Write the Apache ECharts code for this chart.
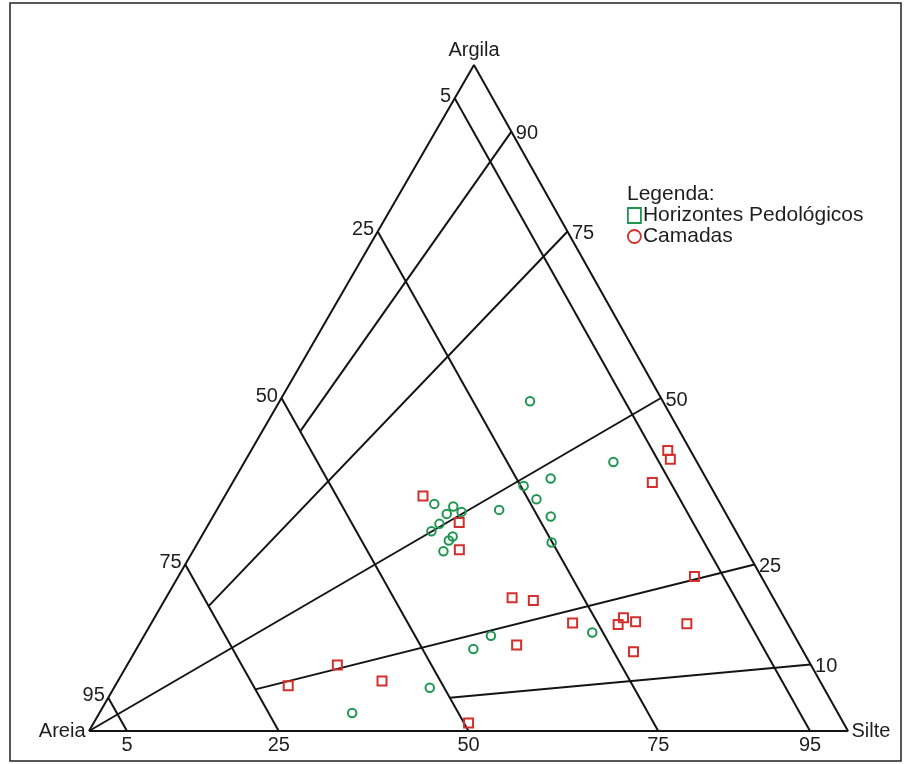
<!DOCTYPE html>
<html>
<head>
<meta charset="utf-8">
<script src="https://cdn.jsdelivr.net/npm/echarts@6/dist/echarts.min.js"></script>
<style>
  html, body { margin: 0; padding: 0; background: #fff; }
  #chart { width: 904px; height: 764px; }
</style>
</head>
<body>
<div id="chart"></div>
<script>
// ---- Data (percentages: Areia, Silte, Argila) ----
const horizontesAreia  = [17.5, 11.0, 20.5, 24.6, 23.9, 23.3, 25.1, 29.6, 37.7, 35.4, 36.8, 34.7, 38.5, 40.1, 37.7, 38.5, 40.0, 40.0, 43.3, 26.4, 51.9, 64.0];
const horizontesSilte  = [33.0, 48.6, 41.6, 38.6, 41.3, 44.5, 46.6, 37.2, 28.2, 30.9, 30.6, 32.4, 30.4, 29.9, 33.1, 32.9, 33.0, 45.7, 44.4, 58.8, 41.6, 33.3];
const horizontesArgila = [49.5, 40.4, 37.9, 36.8, 34.8, 32.2, 28.3, 33.2, 34.1, 33.7, 32.6, 32.9, 31.1, 30.0, 29.2, 28.6, 27.0, 14.3, 12.3, 14.8, 6.5, 2.7];

const camadasAreia  = [38.6, 35.8, 37.8, 3.0, 3.3, 7.4, 8.8, 21.2, 22.4, 19.9, 13.3, 34.4, 31.8, 28.3, 37.3, 22.4, 49.4, 62.4, 70.4, 57.7];
const camadasSilte  = [26.1, 32.9, 35.0, 54.9, 55.9, 55.3, 68.0, 61.8, 61.6, 63.7, 70.6, 45.6, 48.6, 55.5, 49.8, 65.7, 49.4, 27.7, 22.8, 34.8];
const camadasArgila = [35.3, 31.3, 27.2, 42.1, 40.8, 37.3, 23.2, 17.0, 16.0, 16.4, 16.1, 20.0, 19.6, 16.2, 12.9, 11.9, 1.2, 9.9, 6.8, 7.5];

// Tick values
const areiaTicks  = [5, 25, 50, 75, 95];      // left edge labels (lines of constant Areia)
const silteTicks  = [5, 25, 50, 75, 95];      // bottom edge labels
const argilaTicks = [90, 75, 50, 25, 10];     // right edge labels (ratio lines toward Areia vertex)
const argilaLineEndAreia = [50, 75, 100, 75, 50]; // Areia value where each ratio line stops

const vertexNames = ['Areia', 'Silte', 'Argila'];
const legendTitle = 'Legenda:';
const seriesNames = ['Horizontes Pedológicos', 'Camadas'];

// ---- Geometry ----
const APEX_X = 50.72; // horizontal position of the Argila vertex along the base (% of base)
function tern(a, s, c) {
  return [s + c * APEX_X / 100, c];
}

const GREEN = '#1f9650';
const RED = '#d42f2c';
const INK = '#141414';
const TEXT = '#1e1e1e';
const FONT = "'Liberation Sans', Arial, Helvetica, sans-serif";
const FS = 20;

const lineSeries = [];
function addLine(points) {
  lineSeries.push({
    type: 'line',
    data: points,
    symbol: 'none',
    silent: true,
    clip: false,
    lineStyle: { color: INK, width: 2, opacity: 1 },
    z: 1
  });
}
// Triangle
addLine([tern(100, 0, 0), tern(0, 100, 0), tern(0, 0, 100), tern(100, 0, 0)]);
// Constant Areia lines
areiaTicks.forEach(a => addLine([tern(a, 0, 100 - a), tern(a, 100 - a, 0)]));
// Ratio lines from right edge toward Areia vertex
argilaTicks.forEach((c, i) => {
  const aEnd = argilaLineEndAreia[i];
  const f = (100 - aEnd) / 100;
  addLine([tern(0, 100 - c, c), tern(aEnd, (100 - c) * f, c * f)]);
});

function labelSeries(data, pos, dist, offset) {
  return {
    type: 'scatter',
    data: data,
    symbolSize: 1,
    silent: true,
    clip: false,
    itemStyle: { color: 'rgba(0,0,0,0)', opacity: 1 },
    label: {
      show: true,
      formatter: '{b}',
      position: pos,
      distance: dist,
      offset: offset,
      color: TEXT,
      opacity: 1,
      fontSize: FS,
      fontFamily: FONT
    },
    z: 3
  };
}

const leftLabels = areiaTicks.map(a => ({ name: String(a), value: tern(a, 0, 100 - a) }));
const rightLabels = argilaTicks.map(c => ({ name: String(c), value: tern(0, 100 - c, c) }));
const bottomLabels = silteTicks.map(s => ({ name: String(s), value: tern(100 - s, s, 0) }));

const pedoData = horizontesAreia.map((a, i) => tern(a, horizontesSilte[i], horizontesArgila[i]));
const camData = camadasAreia.map((a, i) => tern(a, camadasSilte[i], camadasArgila[i]));

const chart = echarts.init(document.getElementById('chart'), null, { renderer: 'canvas' });
chart.setOption({
  animation: false,
  backgroundColor: '#fff',
  title: {
    text: legendTitle,
    left: 627,
    top: 184,
    padding: 0,
    textStyle: { fontSize: 21, fontWeight: 'normal', color: TEXT, fontFamily: FONT }
  },
  legend: {
    orient: 'vertical',
    left: 627,
    top: 205,
    padding: 0,
    itemWidth: 13,
    itemHeight: 15,
    itemGap: 0,
    selectedMode: false,
    textStyle: { fontSize: 21, color: TEXT, fontFamily: FONT, padding: [0, 0, 0, -3] },
    data: [
      { name: seriesNames[0], icon: 'rect', itemStyle: { color: 'rgba(0,0,0,0)', borderColor: GREEN, borderWidth: 1.8, opacity: 1 } },
      { name: seriesNames[1], icon: 'circle', itemStyle: { color: 'rgba(0,0,0,0)', borderColor: RED, borderWidth: 1.8, opacity: 1 } }
    ]
  },
  grid: { left: 89, right: 56, top: 65, bottom: 33, show: false },
  xAxis: { type: 'value', min: 0, max: 100, show: false },
  yAxis: { type: 'value', min: 0, max: 100, show: false },
  graphic: [{
    type: 'rect',
    shape: { x: 10, y: 3, width: 891, height: 758 },
    style: { fill: 'none', stroke: '#222', lineWidth: 1.5 },
    silent: true,
    z: 100
  }],
  series: [
    ...lineSeries,
    labelSeries(leftLabels, 'left', 3, [0, -2]),
    labelSeries(rightLabels, 'right', 4, [0, 2]),
    labelSeries(bottomLabels, 'bottom', 4, [0, 0]),
    labelSeries([{ name: vertexNames[2], value: tern(0, 0, 100) }], 'top', 4, [0, 0]),
    labelSeries([{ name: vertexNames[0], value: tern(100, 0, 0) }], 'left', 3, [0, 0]),
    labelSeries([{ name: vertexNames[1], value: tern(0, 100, 0) }], 'right', 3, [0, 0]),
    {
      name: seriesNames[0],
      type: 'scatter',
      data: pedoData,
      symbol: 'circle',
      symbolSize: 8.5,
      clip: false,
      itemStyle: { color: 'rgba(0,0,0,0)', borderColor: GREEN, borderWidth: 2, opacity: 1 },
      z: 4
    },
    {
      name: seriesNames[1],
      type: 'scatter',
      data: camData,
      symbol: 'rect',
      symbolSize: 9,
      clip: false,
      itemStyle: { color: 'rgba(0,0,0,0)', borderColor: RED, borderWidth: 2, opacity: 1 },
      z: 5
    }
  ]
});
</script>
</body>
</html>
